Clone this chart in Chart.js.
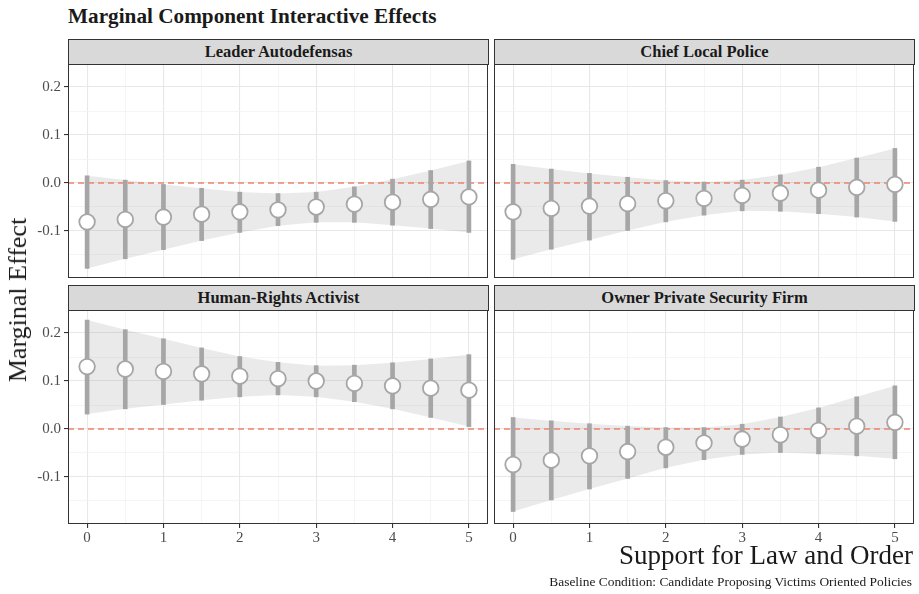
<!DOCTYPE html>
<html>
<head>
<meta charset="utf-8">
<script src="https://cdn.jsdelivr.net/npm/chart.js@4.4.0/dist/chart.umd.min.js"></script>
<style>
  body { margin: 0; background: #fff; width: 919px; height: 594px; position: relative; overflow: hidden;
         font-family: "Liberation Serif", "DejaVu Serif", serif; color: #1a1a1a; }
  canvas { position: absolute; }
  .strip { position: absolute; background: #d9d9d9; border: 1px solid #333; box-sizing: border-box;
           text-align: center; font-weight: bold; font-size: 16.5px; line-height: 24px; color: #1a1a1a; }
  .txt { position: absolute; white-space: nowrap; }
</style>
</head>
<body>

<div class="txt" id="title" style="left:68px; top:3px; font-size:22px; font-weight:bold; transform: scaleX(0.965); transform-origin: left;">Marginal Component Interactive Effects</div>

<div class="strip" style="left:68px; top:39px; width:421px; height:26px;">Leader Autodefensas</div>
<div class="strip" style="left:494px; top:39px; width:421px; height:26px;">Chief Local Police</div>
<div class="strip" style="left:68px; top:285px; width:421px; height:26px;">Human-Rights Activist</div>
<div class="strip" style="left:494px; top:285px; width:421px; height:26px;">Owner Private Security Firm</div>

<canvas id="tl"></canvas>
<canvas id="tr"></canvas>
<canvas id="bl"></canvas>
<canvas id="br"></canvas>

<div class="txt" style="left:18px; top:300px; font-size:26px; transform: translate(-50%,-50%) rotate(-90deg);">Marginal Effect</div>
<div class="txt" style="right:6px; top:540px; font-size:27px;">Support for Law and Order</div>
<div class="txt" style="right:7px; top:574px; font-size:13.4px;">Baseline Condition: Candidate Proposing Victims Oriented Policies</div>

<script>
// support for law and order (x positions shared by every panel)
const support = [0, 0.5, 1, 1.5, 2, 2.5, 3, 3.5, 4, 4.5, 5];
// grid / tick positions on the effect axis (labels only on tenths)
const effectTicks = [-0.15, -0.1, -0.05, 0, 0.05, 0.1, 0.15, 0.2];

// Leader Autodefensas
const leaderEst  = [-0.081, -0.076, -0.071, -0.065, -0.060, -0.056, -0.050, -0.044, -0.040, -0.034, -0.029];
const leaderLow  = [-0.178, -0.158, -0.139, -0.120, -0.103, -0.089, -0.082, -0.082, -0.088, -0.095, -0.103];
const leaderHigh = [0.015, 0.006, -0.003, -0.011, -0.019, -0.022, -0.019, -0.008, 0.008, 0.026, 0.046];

// Chief Local Police
const chiefEst  = [-0.060, -0.053, -0.048, -0.043, -0.037, -0.032, -0.026, -0.021, -0.015, -0.009, -0.003];
const chiefLow  = [-0.159, -0.138, -0.119, -0.099, -0.081, -0.067, -0.058, -0.059, -0.064, -0.071, -0.080];
const chiefHigh = [0.039, 0.029, 0.020, 0.012, 0.005, 0.002, 0.006, 0.017, 0.033, 0.052, 0.072];

// Human-Rights Activist
const activistEst  = [0.130, 0.125, 0.120, 0.115, 0.110, 0.105, 0.100, 0.095, 0.090, 0.085, 0.081];
const activistLow  = [0.031, 0.042, 0.051, 0.060, 0.067, 0.071, 0.067, 0.057, 0.042, 0.024, 0.005];
const activistHigh = [0.227, 0.207, 0.188, 0.169, 0.151, 0.139, 0.132, 0.133, 0.138, 0.146, 0.155];

// Owner Private Security Firm
const ownerEst  = [-0.074, -0.065, -0.056, -0.047, -0.038, -0.029, -0.021, -0.012, -0.003, 0.006, 0.014];
const ownerLow  = [-0.172, -0.148, -0.125, -0.103, -0.081, -0.064, -0.053, -0.049, -0.052, -0.056, -0.062];
const ownerHigh = [0.024, 0.017, 0.011, 0.006, 0.003, 0.003, 0.010, 0.025, 0.044, 0.067, 0.090];

const yMin = -0.198, yMax = 0.248;
const xMin = -0.25, xMax = 5.25;

const PANEL_W = 420, PANEL_H = 214;
const AXIS_W = 40, AXIS_H = 30, PAD = 4;

const tickFont = { family: "'Liberation Serif', 'DejaVu Serif', serif", size: 15 };
const grey = '#a6a6a6';

const isWhole = (v, step) => Math.abs(v / step - Math.round(v / step)) < 1e-6;
const tickVal = c => (c.tick ? c.tick.value : 0);

// panel frame, like ggplot's panel.border
const frame = {
  id: 'frame',
  afterDraw(chart) {
    const a = chart.chartArea, c = chart.ctx;
    c.save();
    c.strokeStyle = '#333';
    c.lineWidth = 1;
    c.strokeRect(Math.round(a.left) + 0.5, Math.round(a.top) + 0.5,
                 Math.round(a.width) - 1, Math.round(a.height) - 1);
    c.restore();
  }
};

function panel(id, left, top, est, low, high, showY, showX) {
  const cv = document.getElementById(id);
  cv.width = PANEL_W + AXIS_W + PAD;
  cv.height = PANEL_H + AXIS_H + PAD;
  cv.style.left = (left - AXIS_W) + 'px';
  cv.style.top = (top - PAD) + 'px';

  const pts = a => support.map((x, i) => ({ x: x, y: a[i] }));

  return new Chart(cv, {
    type: 'line',
    data: {
      datasets: [
        { // ribbon upper edge, filled down to the next dataset
          data: pts(high), fill: '+1', backgroundColor: 'rgba(150,150,150,0.2)',
          borderColor: 'rgba(0,0,0,0)', pointRadius: 0, order: 5
        },
        { // ribbon lower edge
          data: pts(low), fill: false, borderColor: 'rgba(0,0,0,0)', pointRadius: 0, order: 5
        },
        { // reference line at zero
          data: [{ x: xMin, y: 0 }, { x: xMax, y: 0 }], borderColor: '#f2836f', borderWidth: 1.3,
          borderDash: [6, 4], pointRadius: 0, fill: false, order: 3
        },
        { // confidence intervals
          type: 'bar', data: support.map((x, i) => ({ x: x, y: [low[i], high[i]] })),
          backgroundColor: grey, borderWidth: 0, barThickness: 4, order: 2
        },
        { // point estimates
          data: pts(est), showLine: false, pointRadius: 7.8, pointBorderWidth: 1.8,
          pointBackgroundColor: '#fff', pointBorderColor: grey, order: 1
        }
      ]
    },
    options: {
      responsive: false,
      animation: false,
      devicePixelRatio: 1,
      layout: { autoPadding: false, padding: { left: 0, top: PAD, right: PAD, bottom: 0 } },
      plugins: { legend: { display: false }, tooltip: { enabled: false } },
      scales: {
        x: {
          type: 'linear', position: 'bottom', min: xMin, max: xMax, offset: false,
          afterBuildTicks: s => { s.ticks = support.map(v => ({ value: v })); },
          afterFit: s => { s.height = AXIS_H; s.paddingLeft = 0; s.paddingRight = 0; },
          border: { display: false },
          grid: {
            offset: false,
            color: c => isWhole(tickVal(c), 1) ? '#e8e8e8' : '#f3f3f3',
            lineWidth: c => isWhole(tickVal(c), 1) ? 1.1 : 0.8,
            tickColor: c => isWhole(tickVal(c), 1) ? '#333' : 'rgba(0,0,0,0)',
            tickLength: 4, drawTicks: showX
          },
          ticks: {
            display: showX, autoSkip: false, maxRotation: 0,
            padding: 1, color: '#4d4d4d', font: tickFont,
            callback: v => isWhole(v, 1) ? String(Math.round(v)) : ''
          }
        },
        y: {
          type: 'linear', min: yMin, max: yMax,
          afterBuildTicks: s => { s.ticks = effectTicks.map(v => ({ value: v })); },
          afterFit: s => { s.width = AXIS_W; s.paddingTop = 0; s.paddingBottom = 0; },
          border: { display: false },
          grid: {
            offset: false,
            color: c => isWhole(tickVal(c), 0.1) ? '#e8e8e8' : '#f3f3f3',
            lineWidth: c => isWhole(tickVal(c), 0.1) ? 1.1 : 0.8,
            tickColor: c => isWhole(tickVal(c), 0.1) ? '#333' : 'rgba(0,0,0,0)',
            tickLength: 4, drawTicks: showY
          },
          ticks: {
            display: showY, autoSkip: false,
            padding: 3, color: '#4d4d4d', font: tickFont,
            callback: v => isWhole(v, 0.1) ? (Math.round(v * 10) / 10).toFixed(1) : ''
          }
        }
      }
    },
    plugins: [frame]
  });
}

panel('tl', 68, 64, leaderEst, leaderLow, leaderHigh, true, false);
panel('tr', 494, 64, chiefEst, chiefLow, chiefHigh, false, false);
panel('bl', 68, 310, activistEst, activistLow, activistHigh, true, true);
panel('br', 494, 310, ownerEst, ownerLow, ownerHigh, false, true);
</script>
</body>
</html>
